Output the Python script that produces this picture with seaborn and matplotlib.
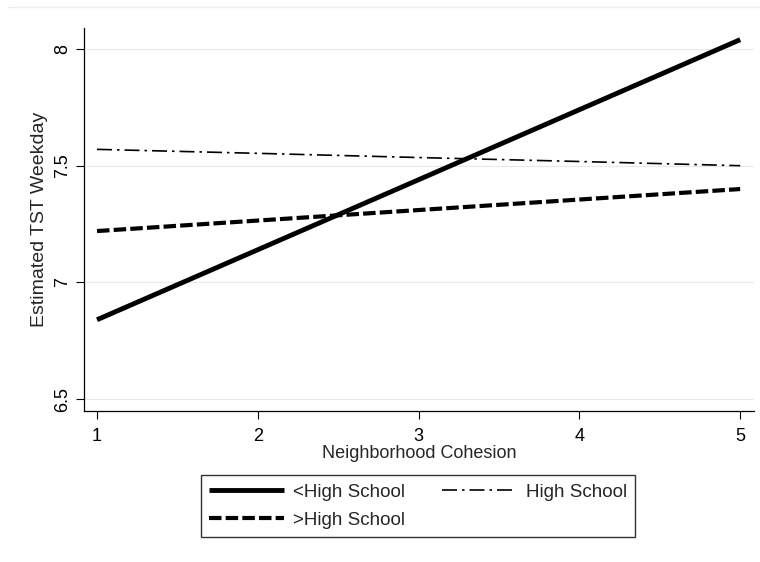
import pandas as pd
import matplotlib
matplotlib.use("Agg")
import matplotlib.pyplot as plt
import seaborn as sns

cohesion = [1, 2, 3, 4, 5]
less_hs = [6.84, 7.14, 7.44, 7.74, 8.04]
hs = [7.57, 7.553, 7.535, 7.518, 7.50]
more_hs = [7.22, 7.265, 7.31, 7.355, 7.40]
groups = ["<High School", "High School", ">High School"]

df = pd.concat([
    pd.DataFrame({"x": cohesion, "y": less_hs, "group": groups[0]}),
    pd.DataFrame({"x": cohesion, "y": hs, "group": groups[1]}),
    pd.DataFrame({"x": cohesion, "y": more_hs, "group": groups[2]}),
])

sns.set_style("white")
plt.rcParams["font.family"] = ["Liberation Sans", "DejaVu Sans"]

fig = plt.figure(figsize=(7.6, 5.62), dpi=100)
ax = fig.add_axes([84 / 760, 1 - 411 / 562, (754 - 84) / 760, (411 - 28) / 562])

styles = {
    groups[0]: dict(lw=3.5, ls="-"),
    groups[1]: dict(lw=1.2, ls=(0, (9, 3, 1.5, 3))),
    groups[2]: dict(lw=3.0, ls=(0, (3, 1))),
}
for g in groups:
    sub = df[df["group"] == g]
    sns.lineplot(data=sub, x="x", y="y", ax=ax, color="black", label=g,
                 solid_capstyle="butt", **styles[g])

ax.set_xlim(0.919, 5.086)
ax.set_ylim(6.449, 8.09)
ax.set_xticks([1, 2, 3, 4, 5])
ax.set_yticks([6.5, 7, 7.5, 8])
ax.set_yticklabels(["6.5", "7", "7.5", "8"], rotation=90, va="center")
ax.grid(axis="y", color="#e8e8e8", lw=0.8)
ax.tick_params(axis="both", direction="out", length=6, width=0.8, colors="black",
               labelsize=13, bottom=True, left=True)
ax.tick_params(axis="x", pad=6)
for s in ["top", "right"]:
    ax.spines[s].set_visible(False)
for s in ["left", "bottom"]:
    ax.spines[s].set_color("black")
    ax.spines[s].set_linewidth(0.9)
ax.set_xlabel("Neighborhood Cohesion", fontsize=13, labelpad=0)
ax.set_ylabel("Estimated TST Weekday", fontsize=14, labelpad=4)

# legend in two columns, row-wise order as in reference
handles, labels = ax.get_legend_handles_labels()
order = [0, 2, 1]
leg = ax.legend([handles[i] for i in order], [labels[i] for i in order],
                loc="upper left", bbox_to_anchor=(201 / 760, 1 - 475 / 562),
                bbox_transform=fig.transFigure, ncol=2, frameon=True,
                fancybox=False, edgecolor="black", fontsize=13.5,
                handlelength=4.0, columnspacing=2.0, borderpad=0.45,
                labelspacing=0.6, handletextpad=0.45, borderaxespad=0)
leg.get_frame().set_linewidth(1.0)
for h in leg.get_lines():
    h.set_color("black")

fig.add_artist(plt.Line2D([8 / 760, 1], [1 - 7 / 562, 1 - 7 / 562],
                          transform=fig.transFigure, color="#eeeeee", lw=1))

fig.savefig("out.png", dpi=100)
